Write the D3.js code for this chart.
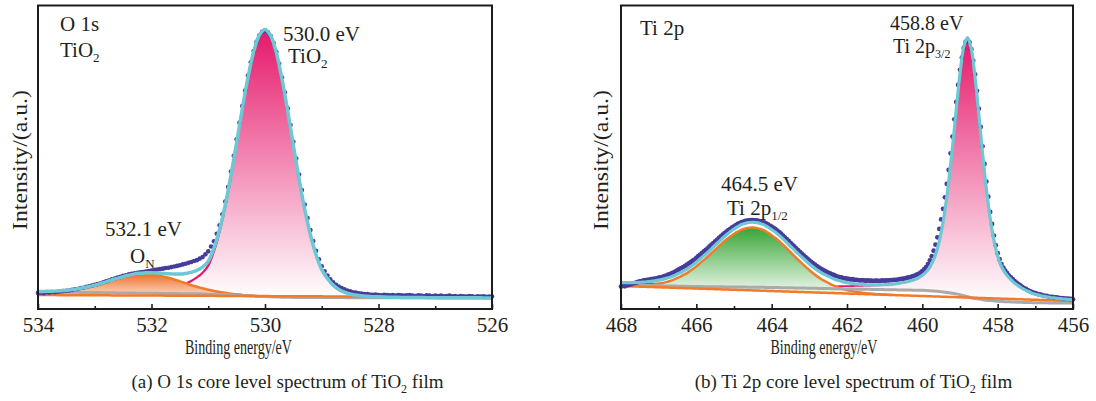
<!DOCTYPE html>
<html>
<head>
<meta charset="utf-8">
<script src="https://cdn.jsdelivr.net/npm/d3@7"></script>
<style>
  body { margin: 0; background: #ffffff; }
  svg { display: block; }
  text { font-family: "Liberation Serif", "Times New Roman", serif; fill: #231f20; }
</style>
</head>
<body>
<svg id="chart" width="1096" height="401"></svg>
<script>
// ---------- O 1s spectrum (binding energy 534 -> 526 eV) ----------
// fitted curves sampled every 0.1 eV, raw counts every 0.05 eV
const o1sStart = 534, o1sEnd = 526, o1sStep = 0.1, o1sRawStep = 0.05;
const o1sShirley = [5.6,5.6,5.6,5.55,5.55,5.5,5.5,5.5,5.45,5.45,
  5.4,5.4,5.35,5.35,5.3,5.3,5.25,5.25,5.2,5.2,
  5.15,5.15,5.1,5.1,5.1,5.05,5.05,5.0,5.0,4.95,
  4.9,4.85,4.8,4.75,4.65,4.55,4.45,4.35,4.25,4.15,
  4.1,4.0,3.95,3.9,3.85,3.82,3.8,3.8,3.78,3.78,
  3.77,3.76,3.76,3.75,3.75,3.74,3.74,3.73,3.73,3.72,
  3.72,3.71,3.71,3.7,3.7,3.69,3.69,3.68,3.68,3.67,
  3.67,3.66,3.66,3.65,3.65,3.64,3.64,3.63,3.63,3.62,3.62];
const o1sLinearBg = [4.6, 3.9];
const o1sPeakTiO2 = [0.05,0.05,0.06,0.06,0.07,0.07,0.08,0.08,0.09,0.1,
  0.1,0.11,0.13,0.15,0.17,0.2,0.25,0.3,0.36,0.45,
  0.6,0.75,1.0,1.3,1.8,2.4,3.2,4.2,5.4,7.0,
  9.4,14.1,20.7,29.0,39.0,50.0,61.3,71.8,80.4,86.0,
  88.0,86.0,80.4,71.8,61.3,50.0,39.0,29.0,20.7,14.1,
  9.2,6.3,4.1,2.7,1.8,1.2,0.85,0.6,0.45,0.35,
  0.28,0.22,0.18,0.15,0.12,0.1,0.09,0.08,0.07,0.07,
  0.06,0.06,0.05,0.05,0.05,0.05,0.04,0.04,0.04,0.04,0.04];
const o1sPeakON = [0.08,0.12,0.18,0.28,0.40,0.58,0.80,1.09,1.44,1.86,
  2.34,2.88,3.46,4.06,4.64,5.18,5.64,6.0,6.22,6.3,
  6.22,6.0,5.64,5.18,4.64,4.06,3.46,2.88,2.34,1.86,
  1.44,1.09,0.80,0.58,0.40,0.28,0.18,0.12,0.08,0.05,
  0.03,0.02,0.01,0,0,0,0,0,0,0,
  0,0,0,0,0,0,0,0,0,0,
  0,0,0,0,0,0,0,0,0,0,
  0,0,0,0,0,0,0,0,0,0,0];
const o1sRaw = [5.3,5.4,5.2,5.5,5.4,5.6,5.5,5.7,5.8,5.9,
  6.0,6.1,6.3,6.5,6.6,6.9,7.0,7.3,7.5,7.7,
  8.0,8.2,8.5,8.8,9.1,9.4,9.8,10.0,10.4,10.6,
  10.9,11.1,11.4,11.6,11.8,11.9,12.1,12.2,12.3,12.5,
  12.7,12.9,13.0,13.2,13.3,13.5,13.6,13.8,14.0,14.2,
  14.4,14.7,14.9,15.2,15.5,15.8,16.1,16.6,17.1,18.0,
  19.0,20.6,22.3,24.8,27.6,31.2,35.4,40.2,45.3,50.5,
  55.9,61.4,66.9,72.0,76.9,81.3,85.0,88.0,90.1,91.3,
  91.8,91.2,89.9,87.7,84.7,80.8,76.3,71.4,66.1,60.6,
  55.1,49.6,44.3,39.2,34.4,30.0,26.0,22.4,19.2,16.4,
  14.1,12.4,11.0,9.8,8.8,8.0,7.4,6.9,6.5,6.1,
  5.8,5.5,5.4,5.2,5.1,4.9,4.9,4.8,4.7,4.8,
  4.6,4.5,4.7,4.6,4.5,4.6,4.4,4.6,4.5,4.4,
  4.5,4.6,4.4,4.3,4.5,4.4,4.3,4.5,4.4,4.2,
  4.4,4.3,4.4,4.2,4.3,4.4,4.2,4.3,4.1,4.3,
  4.2,4.1,4.3,4.2,4.0,4.2,4.1,4.2,4.0,4.1,4.1];
const o1sTicks = [534, 532, 530, 528, 526];
const o1sMinorTicks = [533, 531, 529, 527];

// ---------- Ti 2p spectrum (binding energy 468 -> 456 eV) ----------
const ti2pStart = 468, ti2pEnd = 456, ti2pStep = 0.1, ti2pRawStep = 0.05;
const ti2pShirley = [7.9,7.88,7.85,7.83,7.8,7.78,7.75,7.73,7.7,7.68,
  7.65,7.63,7.6,7.58,7.55,7.53,7.5,7.48,7.45,7.43,
  7.4,7.39,7.37,7.36,7.34,7.33,7.31,7.3,7.28,7.27,
  7.25,7.24,7.22,7.21,7.19,7.18,7.16,7.15,7.13,7.12,
  7.1,7.08,7.05,7.03,7.0,6.98,6.95,6.93,6.9,6.88,
  6.85,6.83,6.8,6.78,6.75,6.73,6.7,6.68,6.65,6.63,
  6.6,6.58,6.56,6.53,6.51,6.49,6.47,6.44,6.42,6.4,
  6.38,6.35,6.33,6.31,6.29,6.26,6.24,6.22,6.2,6.17,
  6.15,6.1,6.02,5.93,5.83,5.7,5.55,5.38,5.18,4.95,
  4.7,4.38,4.02,3.7,3.45,3.25,3.07,2.92,2.8,2.68,
  2.58,2.5,2.42,2.36,2.31,2.26,2.22,2.18,2.14,2.11,
  2.08,2.06,2.04,2.02,2.0,1.99,1.97,1.96,1.95,1.94,1.93];
const ti2pLinearBg = [7.57, 2.63];
const ti2pPeak3of2 = [0.7,0.7,0.7,0.7,0.7,0.7,0.7,0.7,0.7,0.7,
  0.7,0.7,0.7,0.7,0.7,0.7,0.7,0.7,0.7,0.7,
  0.7,0.7,0.7,0.7,0.7,0.7,0.7,0.7,0.7,0.7,
  0.7,0.7,0.7,0.7,0.7,0.7,0.7,0.7,0.7,0.7,
  0.7,0.7,0.7,0.7,0.7,0.7,0.7,0.7,0.7,0.7,
  0.7,0.7,0.7,0.72,0.74,0.76,0.78,0.8,0.84,0.88,
  0.93,0.98,1.03,1.08,1.14,1.2,1.26,1.33,1.4,1.47,
  1.55,1.65,1.81,2.0,2.2,2.46,2.76,3.1,3.5,4.1,
  4.95,6.1,7.8,10.3,14.1,19.5,27.0,36.6,48.1,60.7,
  72.8,81.9,85.4,81.9,72.8,60.7,48.1,36.6,27.2,20.0,
  14.8,11.5,9.5,8.0,6.8,5.8,5.0,4.3,3.7,3.2,
  2.8,2.5,2.2,2.0,1.8,1.65,1.5,1.4,1.3,1.2,1.1];
const ti2pPeak1of2 = [0.07,0.09,0.13,0.18,0.24,0.32,0.42,0.55,0.71,0.91,
  1.15,1.44,1.79,2.2,2.7,3.3,3.9,4.6,5.4,6.3,
  7.3,8.4,9.5,10.6,11.8,13.0,14.2,15.4,16.5,17.5,
  18.4,19.2,19.9,20.3,20.6,20.7,20.6,20.3,19.9,19.2,
  18.4,17.5,16.5,15.4,14.2,13.0,11.8,10.6,9.5,8.4,
  7.3,6.3,5.4,4.6,3.9,3.3,2.7,2.2,1.79,1.44,
  1.15,0.91,0.71,0.55,0.42,0.32,0.24,0.18,0.13,0.09,
  0.07,0.05,0.03,0.02,0.01,0,0,0,0,0,
  0,0,0,0,0,0,0,0,0,0,
  0,0,0,0,0,0,0,0,0,0,
  0,0,0,0,0,0,0,0,0,0,
  0,0,0,0,0,0,0,0,0,0,0];
const ti2pRaw = [7.4,7.6,7.5,7.8,7.9,8.1,8.3,8.5,8.7,8.9,
  9.1,9.2,9.4,9.5,9.6,9.7,9.8,9.9,10.0,10.1,
  10.3,10.4,10.6,10.8,11.0,11.3,11.5,11.8,12.1,12.4,
  12.8,13.1,13.5,13.8,14.2,14.6,15.0,15.4,15.9,16.3,
  16.8,17.4,17.9,18.4,19.0,19.5,20.0,20.6,21.2,21.7,
  22.3,22.8,23.4,23.9,24.5,25.0,25.5,26.0,26.4,26.9,
  27.2,27.6,28.0,28.3,28.6,28.8,29.0,29.1,29.2,29.3,
  29.3,29.2,29.2,29.0,28.9,28.7,28.5,28.2,27.9,27.5,
  27.1,26.7,26.3,25.8,25.3,24.8,24.2,23.6,23.0,22.4,
  21.8,21.2,20.6,20.0,19.4,18.8,18.2,17.7,17.1,16.6,
  16.0,15.5,15.0,14.6,14.1,13.7,13.3,13.0,12.6,12.3,
  12.0,11.7,11.4,11.2,10.9,10.7,10.5,10.4,10.2,10.1,
  10.0,9.9,9.7,9.8,9.6,9.6,9.5,9.4,9.5,9.4,
  9.3,9.4,9.3,9.3,9.2,9.3,9.3,9.2,9.3,9.4,
  9.3,9.4,9.4,9.5,9.5,9.6,9.6,9.7,9.8,9.9,
  10.0,10.1,10.3,10.4,10.6,10.8,11.0,11.3,11.6,12.0,
  12.5,13.1,13.8,14.8,16.0,17.4,19.2,21.2,23.6,26.4,
  29.5,33.0,36.8,41.2,45.8,51.3,56.8,62.5,68.2,73.8,
  78.8,82.8,86.0,88.0,88.6,87.9,85.6,81.8,77.3,71.9,
  66.0,60.0,53.6,47.8,42.0,37.0,32.0,28.0,24.2,21.0,
  18.4,16.4,14.8,13.6,12.6,11.8,11.0,10.4,9.8,9.2,
  8.7,8.2,7.8,7.3,6.9,6.6,6.2,5.9,5.6,5.4,
  5.2,5.0,4.8,4.7,4.5,4.3,4.3,4.1,4.0,4.0,
  3.8,3.8,3.7,3.6,3.6,3.5,3.4,3.4,3.3,3.3,3.2];
const ti2pTicks = [468, 466, 464, 462, 460, 458, 456];
const ti2pMinorTicks = [467, 465, 463, 461, 459, 457];

// ---------- drawing ----------
const svg = d3.select('#chart');
const defs = svg.append('defs');

function addGradient(id, top, bottom) {
  const g = defs.append('linearGradient').attr('id', id)
    .attr('x1', 0).attr('y1', 0).attr('x2', 0).attr('y2', 1);
  g.append('stop').attr('offset', '0%').attr('stop-color', top);
  g.append('stop').attr('offset', '100%').attr('stop-color', bottom);
}
addGradient('gradPink', '#e6186a', '#ffffff');
addGradient('gradOrange', '#f0702c', '#fcdcc8');
addGradient('gradGreen', '#37a535', '#f4faf2');

const COLORS = {
  raw: '#463c9c',
  envelope: '#6cc8d3',
  pink: '#e5176b',
  orange: '#f17a2b',
  gray: '#aaaaaa'
};

const PLOT_TOP = 5.5, PLOT_BOTTOM = 309;

function drawPanel(p) {
  const x = d3.scaleLinear().domain([p.start, p.end]).range([p.left, p.right]);
  const y = d3.scaleLinear().domain([0, 100]).range([PLOT_BOTTOM, PLOT_TOP]);
  const linear = d3.scaleLinear().domain([p.start, p.end]).range(p.linearBg);
  const g = svg.append('g');

  const rows = p.shirley.map((s, i) => {
    const e = p.start - i * p.step;
    return { i, e, shirley: s, linear: linear(e) };
  });

  const line = (acc) => d3.line().x(d => x(d.e)).y(d => y(acc(d))).curve(d3.curveCatmullRom);
  const area = (top, bottom) => d3.area().x(d => x(d.e))
    .y0(d => y(bottom(d))).y1(d => y(top(d))).curve(d3.curveCatmullRom);

  // components: net peak drawn on top of its own background
  p.peaks.forEach(pk => {
    const base = d => d[pk.base];
    const top = d => d[pk.base] + pk.values[d.i];
    const pts = rows.filter(d => pk.values[d.i] > 0.02);
    g.append('path').datum(pts)
      .attr('d', area(top, base))
      .attr('fill', `url(#${pk.gradient})`);
    g.append('path').datum(pts)
      .attr('d', line(top))
      .attr('fill', 'none')
      .attr('stroke', pk.stroke)
      .attr('stroke-width', pk.width);
  });

  // Shirley background
  g.append('path').datum(rows)
    .attr('d', line(d => d.shirley))
    .attr('fill', 'none').attr('stroke', COLORS.gray).attr('stroke-width', 3);

  // linear background
  g.append('path').datum(rows)
    .attr('d', line(d => d.linear))
    .attr('fill', 'none').attr('stroke', COLORS.orange).attr('stroke-width', 2.5);

  // raw counts
  g.append('g').selectAll('circle').data(p.raw).join('circle')
    .attr('cx', (v, j) => x(p.start - j * p.rawStep))
    .attr('cy', v => y(v))
    .attr('r', p.dot)
    .attr('fill', COLORS.raw);

  // fitted envelope = Shirley background + all components
  const envRows = rows.map(r => ({ e: r.e, v: r.shirley + d3.sum(p.peaks, pk => pk.values[r.i]) }));
  g.append('path').datum(envRows)
    .attr('d', line(d => d.v))
    .attr('fill', 'none').attr('stroke', COLORS.envelope)
    .attr('stroke-width', p.envWidth).attr('stroke-linejoin', 'round');

  // frame
  svg.append('rect')
    .attr('x', p.left).attr('y', PLOT_TOP)
    .attr('width', p.right - p.left).attr('height', PLOT_BOTTOM - PLOT_TOP)
    .attr('fill', 'none').attr('stroke', '#1c1c1c').attr('stroke-width', 2);

  // bottom axis: inward major + minor ticks
  const axis = svg.append('g').attr('transform', `translate(0,${PLOT_BOTTOM})`)
    .call(d3.axisBottom(x).tickValues(p.ticks).tickFormat(d3.format('d'))
      .tickSize(-5).tickPadding(8));
  axis.select('.domain').remove();
  axis.selectAll('.tick line').attr('stroke', '#1c1c1c').attr('stroke-width', 1.6);
  axis.selectAll('.tick text')
    .attr('fill', '#231f20').style('font-size', '21px')
    .style('font-family', '"Liberation Serif", "Times New Roman", serif');
  const minor = svg.append('g').attr('transform', `translate(0,${PLOT_BOTTOM})`)
    .call(d3.axisBottom(x).tickValues(p.minorTicks).tickFormat('').tickSize(-3));
  minor.select('.domain').remove();
  minor.selectAll('.tick line').attr('stroke', '#1c1c1c').attr('stroke-width', 1.6);

  // axis titles
  svg.append('text')
    .attr('x', p.titleX).attr('y', 354)
    .attr('text-anchor', 'middle')
    .attr('textLength', 107).attr('lengthAdjust', 'spacingAndGlyphs')
    .style('font-size', '20px')
    .text('Binding energy/eV');
  svg.append('text')
    .attr('transform', `translate(${p.ylabelX},160) rotate(-90)`)
    .attr('text-anchor', 'middle')
    .attr('textLength', 140).attr('lengthAdjust', 'spacingAndGlyphs')
    .style('font-size', '22px')
    .text('Intensity/(a.u.)');
}

function label(x, y, parts, size, anchor) {
  const t = svg.append('text').attr('x', x).attr('y', y)
    .attr('text-anchor', anchor || 'start')
    .style('font-size', size + 'px');
  let shift = 0;
  parts.forEach(([str, sub]) => {
    const s = t.append('tspan').text(str);
    if (sub && shift === 0) { s.attr('dy', 5).style('font-size', Math.round(size * 0.62) + 'px'); shift = 5; }
    else if (!sub && shift !== 0) { s.attr('dy', -shift); shift = 0; }
  });
  return t;
}

drawPanel({
  start: o1sStart, end: o1sEnd, step: o1sStep, rawStep: o1sRawStep,
  left: 38, right: 492,
  shirley: o1sShirley, linearBg: o1sLinearBg, raw: o1sRaw,
  peaks: [
    { values: o1sPeakTiO2, base: 'shirley', gradient: 'gradPink', stroke: COLORS.pink, width: 2.2 },
    { values: o1sPeakON, base: 'shirley', gradient: 'gradOrange', stroke: COLORS.orange, width: 2.5 }
  ],
  ticks: o1sTicks, minorTicks: o1sMinorTicks,
  dot: 2.3, envWidth: 3.5,
  titleX: 238.5, ylabelX: 27
});

drawPanel({
  start: ti2pStart, end: ti2pEnd, step: ti2pStep, rawStep: ti2pRawStep,
  left: 621, right: 1073,
  shirley: ti2pShirley, linearBg: ti2pLinearBg, raw: ti2pRaw,
  peaks: [
    { values: ti2pPeak3of2, base: 'shirley', gradient: 'gradPink', stroke: COLORS.pink, width: 1.8 },
    { values: ti2pPeak1of2, base: 'linear', gradient: 'gradGreen', stroke: COLORS.orange, width: 2.5 }
  ],
  ticks: ti2pTicks, minorTicks: ti2pMinorTicks,
  dot: 2.4, envWidth: 3.2,
  titleX: 824, ylabelX: 608
});

// annotations
label(60, 31, [['O 1s']], 21);
label(60, 57, [['TiO'], ['2', true]], 21);
label(283, 41, [['530.0 eV']], 21);
label(288, 63, [['TiO'], ['2', true]], 21);
label(105, 236, [['532.1 eV']], 21);
label(130, 263, [['O'], ['N', true]], 21);

label(640, 35, [['Ti 2p']], 21);
label(890, 30, [['458.8 eV']], 20);
label(893, 53, [['Ti 2p'], ['3/2', true]], 20);
label(721, 191, [['464.5 eV']], 21);
label(727, 215, [['Ti 2p'], ['1/2', true]], 21);

// captions
label(287.5, 388, [['(a) O 1s core level spectrum of TiO'], ['2', true], [' film']], 19, 'middle');
label(853.5, 388, [['(b) Ti 2p core level spectrum of TiO'], ['2', true], [' film']], 19, 'middle');
</script>
</body>
</html>
